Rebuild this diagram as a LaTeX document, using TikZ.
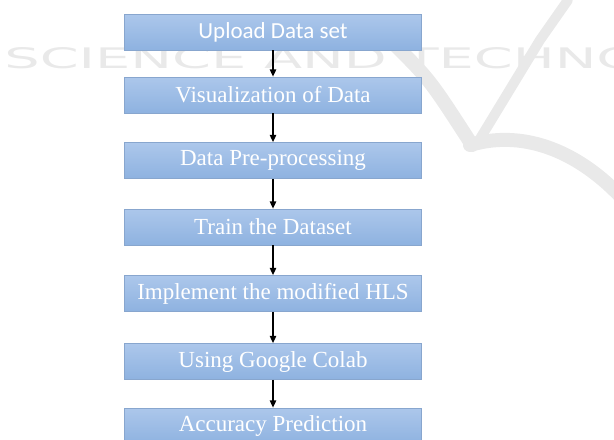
\documentclass[tikz,border=0pt]{standalone}
\usepackage{fontspec}
\setmainfont{Liberation Serif}
\newfontfamily\calibrifont{Carlito}
\newfontfamily\markfont{DejaVu Sans}
\usepackage{graphicx}
\usepackage{xcolor}
\definecolor{boxtop}{RGB}{172, 199, 235}
\definecolor{boxbot}{RGB}{142, 178, 224}
\definecolor{boxline}{RGB}{136, 166, 206}
\definecolor{markgray}{RGB}{233, 233, 233}
\usetikzlibrary{arrows.meta,positioning}

\begin{document}
\begin{tikzpicture}[
  x=0.5pt, y=-0.5pt,
  stepbox/.style={draw=boxline, line width=0.4pt, top color=boxtop, bottom color=boxbot, minimum width=148.5pt, minimum height=18pt, inner sep=0pt, text=white, font=\fontsize{11.5}{13}\selectfont},
  arrow/.style={-{Triangle[width=3.2pt,length=3.6pt]}, line width=0.6pt, color=black},
  swoosh/.style={draw=markgray, line width=7pt, line cap=round}
]
\useasboundingbox (0,0) rectangle (614,439);
\clip (0,0) rectangle (614,439);

% Watermark behind the chart
\node[anchor=south west, inner sep=0pt, text=markgray] (mark) at (4,69) {\resizebox{318pt}{10.5pt}{\markfont SCIENCE AND TECHNO}};
\draw[swoosh] (395,45) .. controls (430,80) .. (472,145);
\draw[swoosh, line width=5pt] (568,0) -- (540,40) -- (478,142);
\draw[swoosh] (470,145) .. controls (520,130) and (575,148) .. (622,198);

\node[stepbox, font=\calibrifont\fontsize{11.5}{13}\selectfont] (upload) at (273,32) {Upload Data set};
\node[stepbox] (visual) at (273,95) {Visualization of Data};
\node[stepbox] (preproc) at (273,160.5) {Data Pre-processing};
\node[stepbox] (train) at (273,227) {Train the Dataset};
\node[stepbox] (hls) at (273,293.5) {Implement the modified HLS};
\node[stepbox] (colab) at (273,361.5) {Using Google Colab};
\node[stepbox] (accuracy) at (273,426) {Accuracy Prediction};

% Arrows between steps
\draw[arrow] (upload) -- (visual);
\draw[arrow] (visual) -- (preproc);
\draw[arrow] (preproc) -- (train);
\draw[arrow] (train) -- (hls);
\draw[arrow] (hls) -- (colab);
\draw[arrow] (colab) -- (accuracy);
\end{tikzpicture}
\end{document}
